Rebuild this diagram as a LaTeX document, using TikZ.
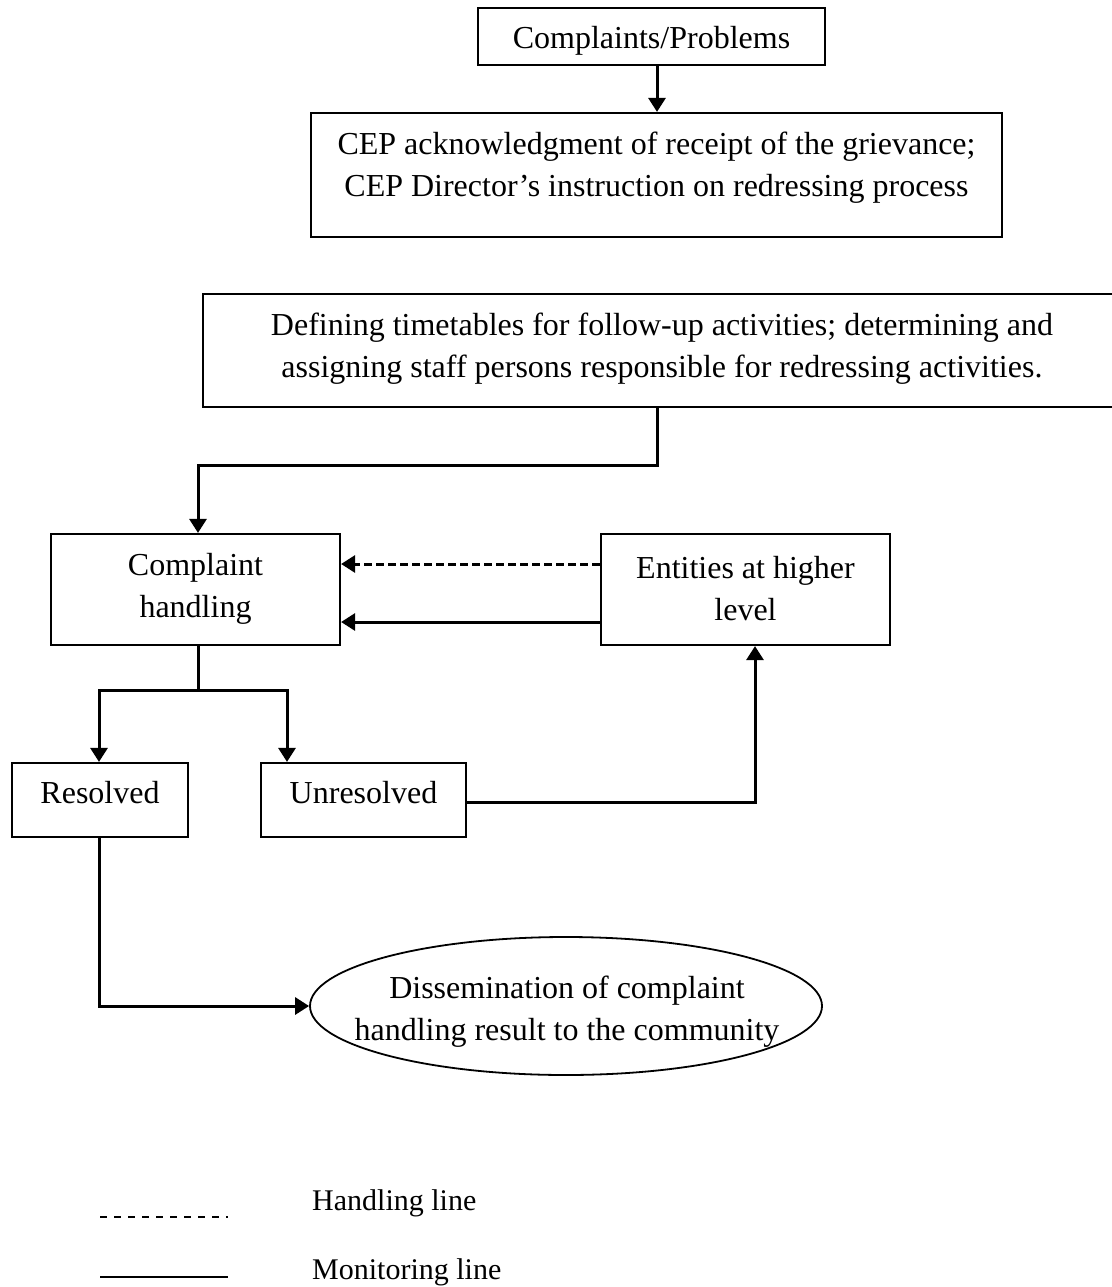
\documentclass[tikz,border=0pt]{standalone}
\usepackage{fontspec}
\setmainfont{Liberation Serif}
\usetikzlibrary{arrows.meta,shapes.geometric,calc}
\begin{document}
\begin{tikzpicture}[x=1pt,y=-1pt,
  box/.style={draw,line width=2.2pt,rectangle,inner sep=0pt},
  lbl/.style={inner sep=0pt,align=center,font=\fontsize{32}{42}\selectfont},
  conn/.style={line width=3pt,-{Triangle[width=17pt,length=14pt]}},
  plain/.style={line width=3pt},
  handl/.style={line width=3pt,dash pattern=on 8pt off 4pt,-{Triangle[width=17pt,length=14pt]}},
  leg/.style={font=\fontsize{30}{36}\selectfont,anchor=west,inner sep=0pt}]
\useasboundingbox (0,0) rectangle (1111,1287);

% boxes
\node[box,minimum width=347pt,minimum height=57pt] (top) at (651.5,36.5) {};
\node[lbl] (topt) at (651.5,40.5) {Complaints/Problems};

\node[box,minimum width=691pt,minimum height=124pt] (ack) at (656.5,175) {};
\node[lbl] (ackt) at (656.5,167.5) {CEP acknowledgment of receipt of the grievance;\\CEP Director’s instruction on redressing process};

\node[box,minimum width=911pt,minimum height=113pt] (def) at (658.5,350.5) {};
\node[lbl] (deft) at (662,349) {Defining timetables for follow-up activities; determining and\\assigning staff persons responsible for redressing activities.};

\node[box,minimum width=289pt,minimum height=111pt] (ch) at (195.5,589.5) {};
\node[lbl] (cht) at (195.5,589) {Complaint\\handling};

\node[box,minimum width=289pt,minimum height=111pt] (ent) at (745.5,589.5) {};
\node[lbl] (entt) at (745.5,589) {Entities at higher\\level};

\node[box,minimum width=176pt,minimum height=74pt] (res) at (100,800) {};
\node[lbl] (rest) at (100,792.5) {Resolved};

\node[box,minimum width=205pt,minimum height=74pt] (unres) at (363.5,800) {};
\node[lbl] (unrest) at (363.5,792.5) {Unresolved};

\node[ellipse,draw,line width=1.8pt,inner sep=0pt,minimum width=512pt,minimum height=138pt] (dis) at (566,1006) {};
\node[lbl] (dist) at (567,1012) {Dissemination of complaint\\handling result to the community};

% helper coordinates
\coordinate (ax) at (657,0);
\coordinate (j1) at (198,465);
\coordinate (hy) at (0,564);
\coordinate (my) at (0,622);
\coordinate (j2) at (198,690);
\coordinate (rx) at (99,0);
\coordinate (ux) at (287,0);
\coordinate (uy) at (0,802);
\coordinate (ex) at (755,0);

% connectors
\draw[conn] (top.south -| ax) -- (ack.north -| ax);
\draw[conn] (def.south -| ax) |- (j1) -- (ch.north -| j1);
\draw[handl] (ent.west |- hy) -- (ch.east |- hy);
\draw[conn] (ent.west |- my) -- (ch.east |- my);
\draw[plain] (ch.south -| j2) -- (j2);
\draw[conn] (j2) -| (res.north -| rx);
\draw[conn] (j2) -| (unres.north -| ux);
\draw[conn] (unres.east |- uy) -| (ent.south -| ex);
\draw[conn] (res.south -| rx) |- (dis.west);

% legend
\coordinate (l1a) at (100,1217);
\coordinate (l1b) at (228,1217);
\coordinate (l2a) at (100,1277);
\coordinate (l2b) at (228,1277);
\draw[line width=1.5pt,dash pattern=on 7pt off 7pt] (l1a) -- (l1b);
\draw[line width=2.5pt] (l2a) -- (l2b);
\node[leg] (hl) at (312,1203) {Handling line};
\node[leg] (ml) at (312,1272) {Monitoring line};
\end{tikzpicture}
\end{document}
